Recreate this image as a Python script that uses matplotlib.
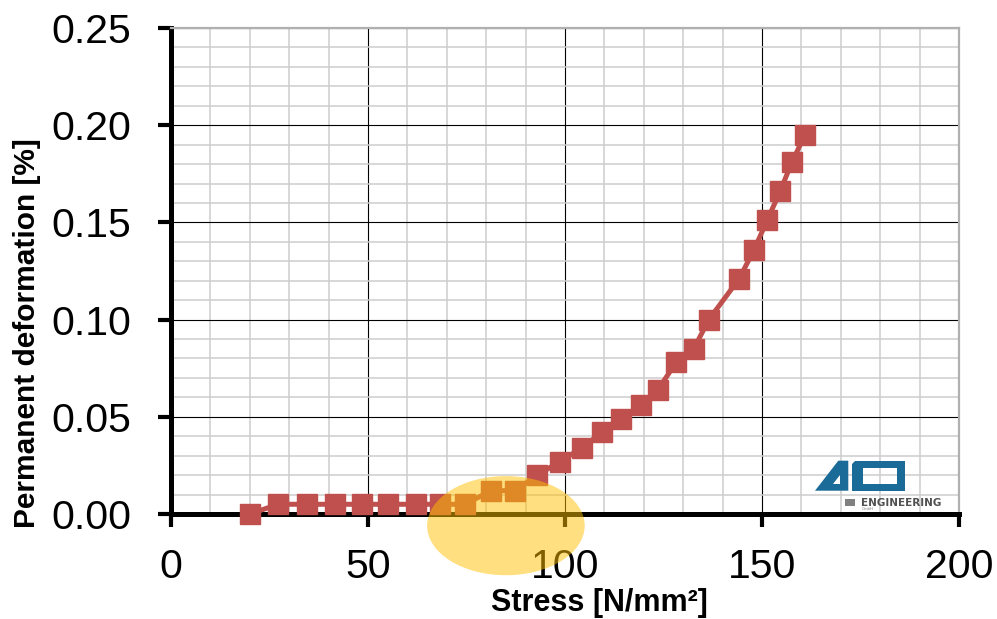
import matplotlib.pyplot as plt
from matplotlib.patches import Ellipse, Rectangle, PathPatch
from matplotlib.path import Path
from matplotlib.ticker import MultipleLocator

plt.rcParams['font.family'] = ['Liberation Sans', 'DejaVu Sans']

# data
stress = [20, 27.2, 34.5, 41.6, 48.5, 55.2, 62.3, 68.3, 74.6, 81.3, 87.3,
          93.0, 98.7, 104.3, 109.4, 114.2, 119.3, 123.6, 128.2, 132.7,
          136.5, 144.2, 148.0, 151.3, 154.6, 157.6, 160.9]
deformation = [0.0, 0.005, 0.005, 0.005, 0.005, 0.005, 0.005, 0.005, 0.005,
               0.012, 0.012, 0.020, 0.027, 0.034, 0.042, 0.049, 0.056,
               0.064, 0.078, 0.085, 0.100, 0.121, 0.136, 0.151, 0.166,
               0.181, 0.195]

red = '#C0504D'
W, H = 997, 619

fig = plt.figure(figsize=(W / 100, H / 100), dpi=100)
ax = fig.add_axes([171 / W, 1 - 514 / H, 788 / W, 486 / H])

ax.plot(stress, deformation, color=red, lw=3.6, marker='s', ms=14.5,
        zorder=3, clip_on=False)

ax.set_xlim(0, 200)
ax.set_ylim(0, 0.25)
ax.xaxis.set_major_locator(MultipleLocator(50))
ax.xaxis.set_minor_locator(MultipleLocator(10))
ax.yaxis.set_major_locator(MultipleLocator(0.05))
ax.yaxis.set_minor_locator(MultipleLocator(0.01))
ax.yaxis.set_major_formatter(lambda v, p: f'{v:.2f}')

ax.grid(which='minor', color='#CDCDCD', lw=1.1, zorder=0)
ax.grid(which='major', color='black', lw=0.8, zorder=0)
ax.set_axisbelow(True)

for s in ['left', 'bottom']:
    ax.spines[s].set_linewidth(3.6)
    ax.spines[s].set_color('black')
for s in ['top', 'right']:
    ax.spines[s].set_linewidth(1.6)
    ax.spines[s].set_color('#B0B0B0')

ax.tick_params(which='minor', length=0)
ax.tick_params(axis='both', which='major', direction='out', length=9.5,
               width=3, labelsize=29.5, color='black')
ax.tick_params(axis='x', pad=15)
ax.tick_params(axis='y', pad=19)

# highlight ellipse
ax.add_patch(Ellipse((85, -0.006), 40, 0.051, facecolor='#FFC000',
                     alpha=0.5, edgecolor='none', zorder=5, clip_on=False))

fig.text(599.5 / W, 1 - 611.5 / H, 'Stress [N/mm²]', ha='center',
         va='baseline', fontsize=22, fontweight='bold')
fig.text(27 / W, 1 - 333.5 / H, 'Permanent deformation [%]', ha='center',
         va='center', rotation=90, fontsize=21.5, fontweight='bold')


# logo (drawn in figure pixel coordinates)
def fp(x, y):
    return (x / W, 1 - y / H)


def shape_with_hole(outer, inner):
    verts = outer + [outer[0]] + inner[::-1] + [inner[-1]]
    codes = ([Path.MOVETO] + [Path.LINETO] * (len(outer) - 1) + [Path.CLOSEPOLY]
             + [Path.MOVETO] + [Path.LINETO] * (len(inner) - 1) + [Path.CLOSEPOLY])
    return Path(verts, codes)


blue = '#1B6B98'
four = [fp(815, 490.7), fp(838.3, 460.7), fp(848.3, 460.7), fp(848.3, 490.7)]
hole4 = [fp(833, 484), fp(840, 475), fp(840, 484)]
fig.patches.append(PathPatch(shape_with_hole(four, hole4), facecolor=blue,
                             edgecolor='none', transform=fig.transFigure))

outer = [fp(855, 460.7), fp(905, 460.7), fp(905, 490.7), fp(851.7, 490.7),
         fp(851.7, 464)]
inner = [fp(863.3, 468), fp(896.7, 468), fp(896.7, 483.5), fp(863.3, 483.5)]
fig.patches.append(PathPatch(shape_with_hole(outer, inner), facecolor=blue,
                             edgecolor='none', transform=fig.transFigure))

fig.patches.append(Rectangle(fp(845, 506.3), 10 / W, 7.6 / H,
                             facecolor='#808080', edgecolor='none',
                             transform=fig.transFigure))
fig.text(861 / W, 1 - 505.5 / H, 'ENGINEERING', fontsize=7.5,
         fontweight='bold', color='#505050', va='baseline', ha='left',
         family='DejaVu Sans')
fig.text(862 / W, 1 - 510 / H, 'GmbH', fontsize=3, color='#808080',
         va='baseline', ha='left')

fig.savefig('out.png', dpi=100)
